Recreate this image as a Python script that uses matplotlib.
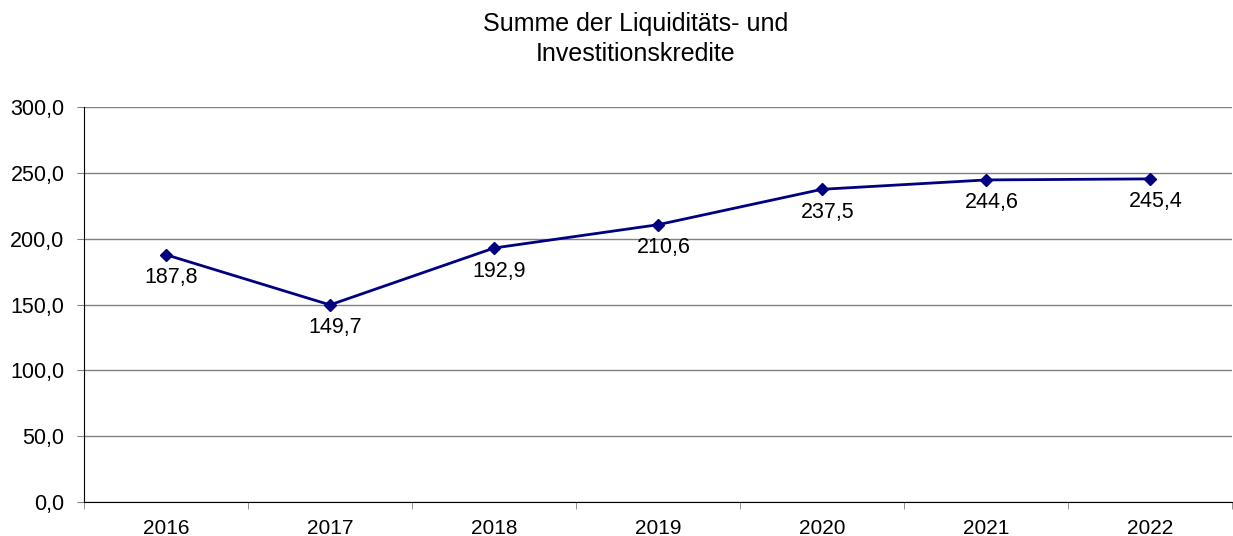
import matplotlib.pyplot as plt
import numpy as np

plt.rcParams['font.family'] = ['Liberation Sans', 'DejaVu Sans']

years = ["2016", "2017", "2018", "2019", "2020", "2021", "2022"]
values = [187.8, 149.7, 192.9, 210.6, 237.5, 244.6, 245.4]
labels = ["187,8", "149,7", "192,9", "210,6", "237,5", "244,6", "245,4"]
yticks = [0, 50, 100, 150, 200, 250, 300]

fig = plt.figure(figsize=(12.33, 5.36), dpi=100)
ax = fig.add_axes([84 / 1233, 1 - 502 / 536, 1148 / 1233, 395 / 536])

x = np.arange(len(years))
ax.plot(x, values, color="#000080", lw=2, marker="D", ms=6.5, zorder=3)
for xi, v, lab in zip(x, values, labels):
    ax.annotate(lab, (xi, v), xytext=(4, -9), textcoords="offset points",
                ha="center", va="top", fontsize=15.5)

ax.set_xlim(-0.5, len(years) - 0.5)
ax.set_ylim(0, 300)
ax.set_yticks(yticks)
ax.set_yticklabels([f"{t:.1f}".replace(".", ",") for t in yticks], fontsize=15.5)
ax.set_xticks(x)
ax.set_xticklabels(years, fontsize=15)
ax.set_xticks(np.arange(len(years) + 1) - 0.5, minor=True)
ax.tick_params(axis="x", which="major", length=0, pad=12)
ax.tick_params(axis="x", which="minor", length=5, color="#808080")
ax.tick_params(axis="y", length=5, color="#808080", pad=9)
ax.grid(axis="y", color="#808080", lw=1)
for s in ["top", "right"]:
    ax.spines[s].set_visible(False)
ax.spines["left"].set_color("black")
ax.spines["bottom"].set_color("black")

fig.text(636 / 1233, 1 - 39 / 536, "Summe der Liquiditäts- und\nInvestitionskredite",
         ha="center", va="center", fontsize=18, linespacing=1.3)

fig.savefig("out.png", dpi=100)
